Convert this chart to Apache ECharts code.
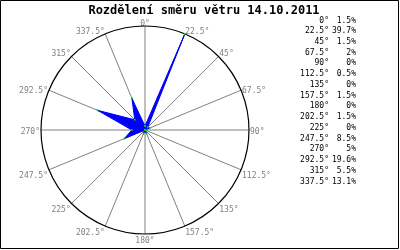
<!DOCTYPE html>
<html><head><meta charset="utf-8">
<script src="https://cdn.jsdelivr.net/npm/echarts@6/dist/echarts.min.js"></script>
<style>html,body{margin:0;padding:0;background:#fff}#c{width:400px;height:250px}</style>
</head><body><div id="c"></div>
<script>
const titleText = 'Rozdělení směru větru 14.10.2011';
const directions = [0, 22.5, 45, 67.5, 90, 112.5, 135, 157.5, 180, 202.5, 225, 247.5, 270, 292.5, 315, 337.5];
const shares = [1.5, 39.7, 1.5, 2, 0, 0.5, 0, 1.5, 0, 1.5, 0, 8.5, 5, 19.6, 5.5, 13.1];

const mono = 'DejaVu Sans Mono';
const chart = echarts.init(document.getElementById('c'), null, {renderer: 'canvas'});

const lineData = directions.map((d, i) => [shares[i], d]);
lineData.push([shares[0], 360]);

const legendTexts = [];
directions.forEach((d, i) => {
  const y = 20.5 + i * 10.73;
  legendTexts.push({type: 'text', x: 329, y: y, style: {text: d + '°', textAlign: 'right', textVerticalAlign: 'middle', font: '8px "' + mono + '"', fill: '#000'}});
  legendTexts.push({type: 'text', x: 356, y: y, style: {text: shares[i] + '%', textAlign: 'right', textVerticalAlign: 'middle', font: '8px "' + mono + '"', fill: '#000'}});
});

function labelFmt(v) {
  const a = v * Math.PI / 180;
  const upperNearHoriz = Math.cos(a) > 0.01 && Math.abs(Math.cos(a)) < 0.5;
  return upperNearHoriz ? '{h|' + v + '°}' : '{n|' + v + '°}';
}

chart.setOption({
  animation: false,
  title: {text: titleText, left: 199, top: 0, textAlign: 'center',
    textStyle: {fontFamily: mono, fontWeight: 'bold', fontSize: 12, color: '#000'}},
  polar: {center: [145, 130], radius: 104},
  angleAxis: {type: 'value', min: 0, max: 360, interval: 22.5, startAngle: 90, clockwise: true,
    axisLine: {show: true, lineStyle: {color: '#000', width: 1.2}},
    axisTick: {show: false},
    splitLine: {show: true, lineStyle: {color: '#808080', width: 1}},
    axisLabel: {show: true, margin: 1, color: '#808080', fontFamily: mono, fontSize: 8,
      padding: [1.5, 0, -2.5, 0],
      formatter: labelFmt,
      rich: {
        n: {color: '#808080', fontFamily: mono, fontSize: 8},
        h: {color: '#808080', fontFamily: mono, fontSize: 8, padding: [0, 0, -3, 0]}
      }}},
  radiusAxis: {type: 'value', min: 0, max: 39.7, show: false, axisLine: {show: false}, splitLine: {show: false}, axisLabel: {show: false}, axisTick: {show: false}},
  series: [{type: 'line', coordinateSystem: 'polar', data: lineData,
    symbol: 'circle', symbolSize: 2, showSymbol: true,
    itemStyle: {color: '#00cc00'},
    lineStyle: {color: '#0000ff', width: 1},
    areaStyle: {color: '#0000ff', opacity: 1}}],
  graphic: [{type: 'rect', shape: {x: 0.5, y: 0.5, width: 398, height: 248}, style: {fill: null, stroke: '#000', lineWidth: 1}, z: 100}].concat(legendTexts)
});
</script></body></html>
